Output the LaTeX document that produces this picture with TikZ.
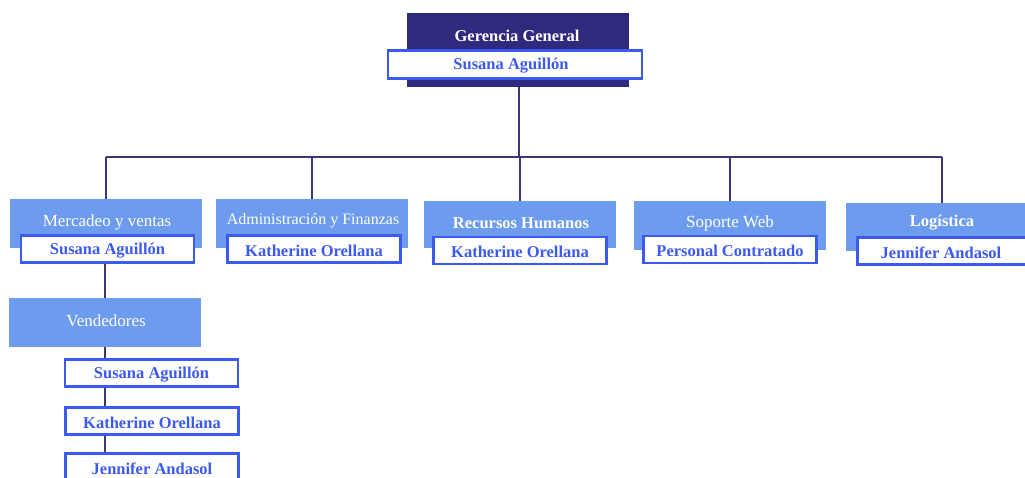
\documentclass[tikz,border=0pt]{standalone}
\usepackage{fontspec}
\setmainfont{Liberation Serif}
\definecolor{darkbox}{HTML}{2F2A7E}
\definecolor{headblue}{HTML}{6D9CEE}
\definecolor{nameblue}{HTML}{3D5AF0}
\definecolor{linkpurple}{HTML}{3E3577}
\tikzset{
    topbox/.style={fill=darkbox, minimum width=222pt, minimum height=74pt, inner sep=0pt},
    headbox/.style={fill=headblue, minimum width=192pt, minimum height=49pt, inner sep=0pt},
    namebox/.style={draw=nameblue, line width=2.2pt, fill=white, minimum width=173pt, minimum height=27pt, inner sep=0pt,
        text=nameblue, font=\fontsize{16.5}{19}\selectfont\bfseries},
    nametext/.style={text=nameblue, inner sep=0pt, font=\fontsize{16.5}{19}\selectfont\bfseries},
    headtext/.style={text=white, inner sep=0pt, font=\fontsize{17}{20}\selectfont},
    headbold/.style={text=white, inner sep=0pt, font=\fontsize{16.5}{19}\selectfont\bfseries},
    link/.style={draw=linkpurple, line width=2pt}
}
\begin{document}
\begin{tikzpicture}[x=1pt, y=-1pt]
        \useasboundingbox (0, 0) rectangle (1025, 477);

        % Gerencia General
        \node[topbox] (gg) at (518, 50) {};
        \node[headbold] (ggt) at (517, 36) {Gerencia General};
        \node[namebox, minimum width=254pt, minimum height=28pt] (ggn) at (515, 64.5) {};
        \node[nametext] (ggnt) at (511, 66) {Susana Aguillón};

        % Departments
        \node[headbox] (mv) at (106, 223.5) {};
        \node[headtext] (mvt) at (107, 222) {Mercadeo y ventas};
        \node[namebox] (mvn) at (107.5, 249) {};
        \node[nametext] (mvnt) at (107.5, 251) {Susana Aguillón};

        \node[headbox] (af) at (311.5, 223.5) {};
        \node[headtext, font=\fontsize{16}{19}\selectfont] (aft) at (313, 221) {Administración y Finanzas};
        \node[namebox] (afn) at (314, 249) {};
        \node[nametext] (afnt) at (314, 251) {Katherine Orellana};

        \node[headbox, minimum height=47pt] (rh) at (519.5, 224.5) {};
        \node[headbold] (rht) at (521, 223) {Recursos Humanos};
        \node[namebox] (rhn) at (520, 250.5) {};
        \node[nametext] (rhnt) at (520, 252) {Katherine Orellana};

        \node[headbox] (sw) at (730, 225.5) {};
        \node[headtext] (swt) at (730, 223) {Soporte Web};
        \node[namebox] (swn) at (730, 249.5) {};
        \node[nametext] (swnt) at (730, 251) {Personal Contratado};

        \node[headbox, minimum height=48pt] (lg) at (941.5, 227) {};
        \node[headbold] (lgt) at (942, 223) {Logística};
        \node[namebox] (lgn) at (944, 251) {};
        \node[nametext] (lgnt) at (941, 253) {Jennifer Andasol};

        % Vendedores
        \node[headbox] (vd) at (105, 322.5) {};
        \node[headtext] (vdt) at (106, 321) {Vendedores};
        \node[namebox] (v1) at (151.5, 373) {};
        \node[nametext] (v1t) at (151.5, 375) {Susana Aguillón};
        \node[namebox] (v2) at (152, 421) {};
        \node[nametext] (v2t) at (152, 423) {Katherine Orellana};
        \node[namebox] (v3) at (152, 467) {};
        \node[nametext] (v3t) at (152, 469) {Jennifer Andasol};

        % Connectors
        \coordinate (bus) at (519, 157);
        \draw[link] (gg.south -| bus) -- (bus);
        \draw[link] (mv.north |- bus) -- (lg.north |- bus);
        \foreach \d in {mv, af, rh, sw, lg}
            \draw[link] (\d.north) -- (\d.north |- bus);
        \draw[link] (vd.north |- mvn.south) -- (vd.north);
        \draw[link] (vd.south) -- (vd.south |- v1.north);
        \draw[link] (v1.south -| vd.south) -- (v2.north -| vd.south);
        \draw[link] (v2.south -| vd.south) -- (v3.north -| vd.south);
\end{tikzpicture}
\end{document}
